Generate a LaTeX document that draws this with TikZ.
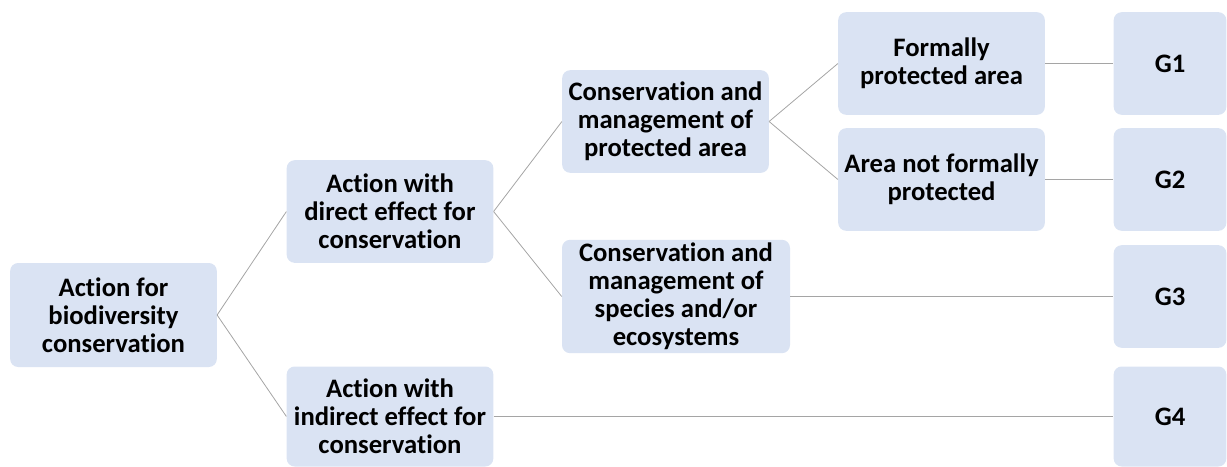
\documentclass[tikz,border=0pt]{standalone}
\usepackage{fontspec}
\setmainfont{Carlito}[Ligatures=NoCommon]
\definecolor{color_box_fill}{HTML}{DAE3F3}
\definecolor{color_link}{HTML}{A5A5A5}
\def\boxw{155pt}
\def\boxh{77pt}

\begin{document}
\begin{tikzpicture}[x=0.75pt,y=-0.75pt,
        box/.style={rounded corners=6pt, fill=color_box_fill, inner sep=0pt, align=center,
            minimum width=\boxw, minimum height=\boxh, font=\bfseries\fontsize{20}{21}\selectfont},
        gbox/.style={box, minimum width=84.5pt},
        link/.style={draw=color_link, line width=0.6pt}]
    \useasboundingbox (0,0) rectangle (1227,467);
    % first level
    \node[box, minimum height=78pt] (root) at (113.5,315) {Action for\\biodiversity\\conservation};
    % second level
    \node[box] (direct) at (390,211.5) {Action with\\direct effect for\\conservation};
    \node[box, minimum height=75pt] (indirect) at (390,416.5) {Action with\\indirect effect for\\conservation};
    % third level
    \node[box] (pa) at (665.5,121.5) {Conservation and\\management of\\protected area};
    \node[box, minimum width=171pt, minimum height=85pt] (species) at (676,296.5) {Conservation and\\management of\\species and/or\\ecosystems};
    % fourth level
    \node[box] (formal) at (941.5,63.5) {Formally\\protected area};
    \node[box] (notformal) at (941.5,179.5) {Area not formally\\protected};
    % groups
    \node[gbox] (g1) at (1170,63.5) {G1};
    \node[gbox] (g2) at (1170,179.5) {G2};
    \node[gbox] (g3) at (1170,296.5) {G3};
    \node[gbox, minimum height=75pt] (g4) at (1170,416.5) {G4};
    % links
    \draw[link] (root.east) -- (direct.west);
    \draw[link] (root.east) -- (indirect.west);
    \draw[link] (direct.east) -- (pa.west);
    \draw[link] (direct.east) -- (species.west);
    \draw[link] (pa.east) -- (formal.west);
    \draw[link] (pa.east) -- (notformal.west);
    \draw[link] (formal) -- (g1);
    \draw[link] (notformal) -- (g2);
    \draw[link] (species) -- (g3);
    \draw[link] (indirect) -- (g4);
\end{tikzpicture}
\end{document}
